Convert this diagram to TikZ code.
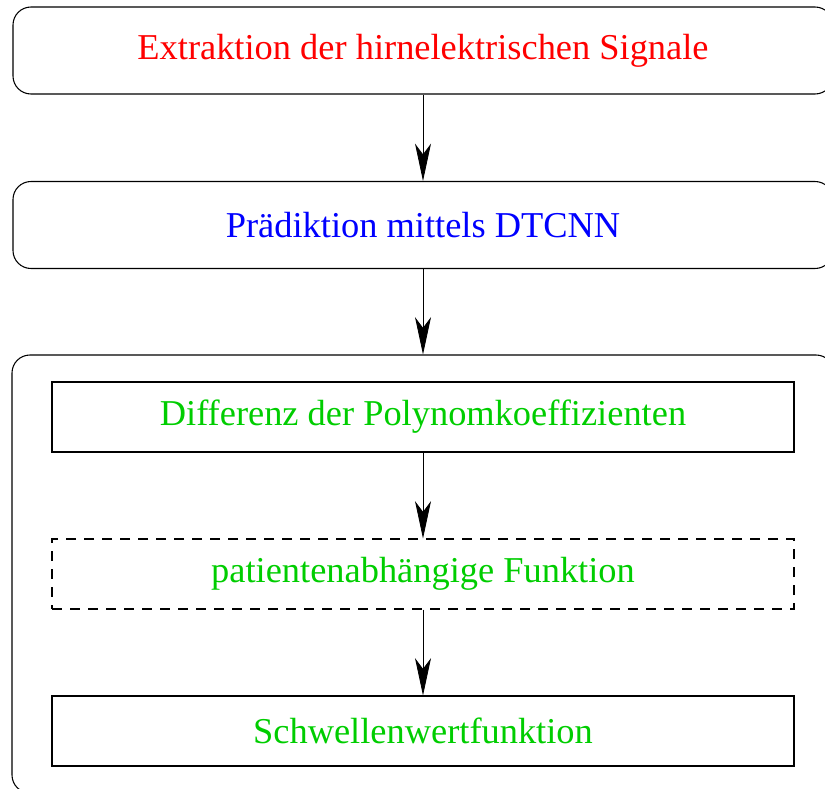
\documentclass[tikz,border=0pt]{standalone}
\usepackage{fontspec}
\setmainfont{Liberation Serif}
\usetikzlibrary{arrows.meta}
\definecolor{fgreen}{RGB}{0,205,0}
\tikzset{
  stage/.style={draw,rectangle,rounded corners=13.5pt,line width=0.8pt,
    minimum width=615pt,minimum height=65.25pt},
  substage/.style={draw,rectangle,line width=0.8pt,text=fgreen,
    minimum width=556.5pt,minimum height=52.5pt},
  flow/.style={line width=0.6pt,-{Stealth[length=28pt,width=12pt,inset=8pt]}}
}
\begin{document}
\begin{tikzpicture}[x=0.75pt,y=-0.75pt,font=\fontsize{27.3}{33}\selectfont]
\useasboundingbox (0,0) rectangle (825,789);
				\node[name=extr,stage,text=red] at (423,50.5){Extraktion der hirnelektrischen Signale};
				\node[name=pred,stage,text=blue] at (423,225){Prädiktion mittels DTCNN};
				\node[name=group,draw,rectangle,rounded corners=13.5pt,line width=0.8pt,
				  minimum width=616.5pt,minimum height=328.5pt] at (423,574){};
				\node[name=diff,substage] at (423,417){Differenz der Polynomkoeffizienten};
				\node[name=pat,substage,dash pattern=on 7.5pt off 6pt] at (423,574){patientenabhängige Funktion};
				\node[name=thr,substage] at (423,731){Schwellenwertfunktion};
				\draw[flow] (extr) -- (pred);
				\draw[flow] (pred) -- (group);
				\draw[flow] (diff) -- (pat);
				\draw[flow] (pat) -- (thr);
\end{tikzpicture}
\end{document}
